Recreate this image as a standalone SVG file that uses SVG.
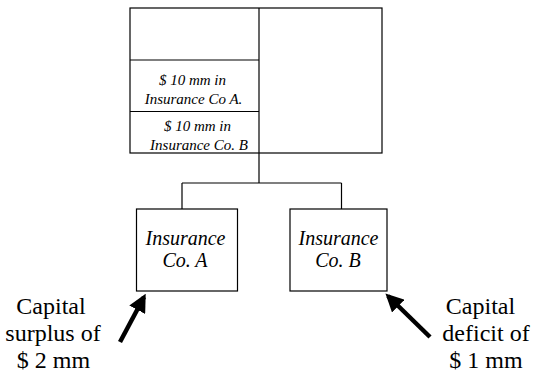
<svg xmlns="http://www.w3.org/2000/svg" width="534" height="374" viewBox="0 0 534 374">
<defs>
<style>
text{font-family:'Liberation Serif','Times New Roman','DejaVu Serif',serif;fill:#000;text-anchor:middle}
.box{fill:#fff;stroke:#000;stroke-width:1.2}
.ln{fill:none;stroke:#000;stroke-width:1.2}
.sm{font-style:italic;font-size:15px}
.md{font-style:italic;font-size:20px}
.lb{font-size:24px}
.arr{stroke:#000;stroke-width:4.5;fill:none}
</style>
<marker id="ah" markerWidth="4" markerHeight="4" refX="3.2" refY="2" orient="auto" markerUnits="strokeWidth" viewBox="0 0 4 4">
<path d="M0,0 L4,2 L0,4 Z" fill="#000"/>
</marker>
</defs>
<g id="holding">
<rect class="box" x="130" y="8" width="252" height="145"/>
<line class="ln" x1="259" y1="8" x2="259" y2="153"/>
<line class="ln" x1="130" y1="60" x2="259" y2="60"/>
<line class="ln" x1="130" y1="111.5" x2="259" y2="111.5"/>
<text class="sm" x="192.5" y="84.5">$ 10 mm in</text>
<text class="sm" x="193.5" y="103.5">Insurance Co A.</text>
<text class="sm" x="197.5" y="131">$ 10 mm in</text>
<text class="sm" x="199" y="149.5">Insurance Co. B</text>
</g>
<g id="connectors">
<path class="ln" d="M259,153 V183 M182,183 H341.5 M182,183 V209 M341.5,183 V209"/>
<line class="arr" x1="120" y1="342" x2="144" y2="297" marker-end="url(#ah)"/>
<line class="arr" x1="430" y1="337" x2="388" y2="296" marker-end="url(#ah)"/>
</g>
<g id="coA">
<rect class="box" x="136.5" y="209" width="101" height="82"/>
<text class="md" x="185.5" y="245">Insurance</text>
<text class="md" x="185" y="267">Co. A</text>
</g>
<g id="coB">
<rect class="box" x="290" y="209" width="97" height="82"/>
<text class="md" x="338.5" y="245">Insurance</text>
<text class="md" x="338" y="267">Co. B</text>
</g>
<g id="labelA">
<text class="lb" x="51" y="314">Capital</text>
<text class="lb" x="53" y="341">surplus of</text>
<text class="lb" x="53.5" y="368">$ 2 mm</text>
</g>
<g id="labelB">
<text class="lb" x="480.5" y="314">Capital</text>
<text class="lb" x="486" y="341">deficit of</text>
<text class="lb" x="486" y="368">$ 1 mm</text>
</g>
</svg>
